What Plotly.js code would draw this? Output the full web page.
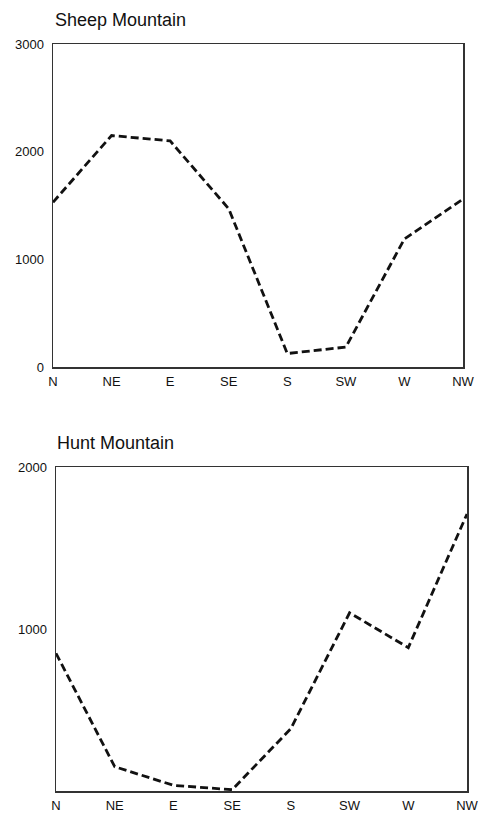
<!DOCTYPE html>
<html>
<head>
<meta charset="utf-8">
<script src="https://cdn.plot.ly/plotly-3.0.1.min.js"></script>
<style>html,body{margin:0;padding:0;background:#fff;}#chart{width:481px;height:813px;}</style>
</head>
<body>
<div id="chart"></div>
<script>
var directions = ["N", "NE", "E", "SE", "S", "SW", "W", "NW"];
var sheepValues = [1530, 2150, 2100, 1470, 125, 185, 1190, 1560];
var huntValues = [850, 150, 35, 8, 385, 1100, 885, 1710];
var sheepTicks = [0, 1000, 2000, 3000];
var huntTicks = [1000, 2000];

var lineStyle = {color: "#111", width: 2.8, dash: "8px,4px"};
var tickFont = {family: "Liberation Sans, Arial, sans-serif", size: 13, color: "#111"};

var traces = [
  {x: directions, y: sheepValues, xaxis: "x", yaxis: "y", type: "scatter", mode: "lines", line: lineStyle, hoverinfo: "none"},
  {x: directions, y: huntValues, xaxis: "x2", yaxis: "y2", type: "scatter", mode: "lines", line: lineStyle, hoverinfo: "none"}
];

function xAxis(domain, anchor) {
  return {domain: domain, anchor: anchor, type: "category", range: [0, 7], showgrid: false, zeroline: false,
    showline: true, mirror: true, linecolor: "#333", linewidth: 1.5, ticks: "", tickfont: tickFont,
    ticklabelstandoff: 2, fixedrange: true};
}
function yAxis(domain, anchor, range, ticks) {
  return {domain: domain, anchor: anchor, range: range, tickvals: ticks, ticktext: ticks.map(String), showgrid: false, zeroline: false,
    showline: true, mirror: true, linecolor: "#333", linewidth: 1.5, ticks: "", tickfont: tickFont,
    ticklabelstandoff: 5, fixedrange: true};
}

var layout = {
  width: 481, height: 813,
  margin: {l: 0, r: 0, t: 0, b: 0},
  paper_bgcolor: "#fff", plot_bgcolor: "#fff",
  showlegend: false,
  xaxis: xAxis([53/481, 463/481], "y"),
  yaxis: yAxis([1 - 367/813, 1 - 44/813], "x", [0, 3000], sheepTicks),
  xaxis2: xAxis([56/481, 467/481], "y2"),
  yaxis2: yAxis([1 - 791/813, 1 - 467/813], "x2", [0, 2000], huntTicks),
  annotations: [
    {text: "Sheep Mountain", xref: "paper", yref: "paper", x: 53/481, y: 1 - 20/813, xanchor: "left", yanchor: "middle", showarrow: false,
      font: {family: "Liberation Sans, Arial, sans-serif", size: 18, color: "#111"}},
    {text: "Hunt Mountain", xref: "paper", yref: "paper", x: 55/481, y: 1 - 443/813, xanchor: "left", yanchor: "middle", showarrow: false,
      font: {family: "Liberation Sans, Arial, sans-serif", size: 18, color: "#111"}}
  ]
};

Plotly.newPlot("chart", traces, layout, {displayModeBar: false, staticPlot: true});
</script>
</body>
</html>
